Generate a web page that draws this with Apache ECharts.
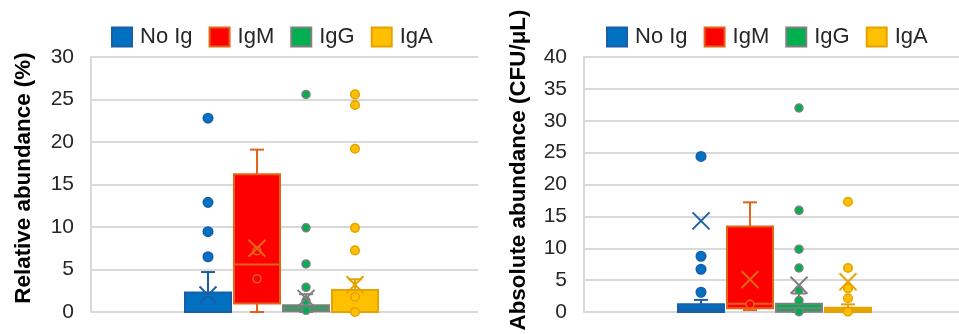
<!DOCTYPE html>
<html>
<head>
<meta charset="utf-8">
<script src="https://cdn.jsdelivr.net/npm/echarts@6/dist/echarts.min.js"></script>
<style>
  html, body { margin: 0; padding: 0; background: #fff; }
  #chart { width: 959px; height: 334px; }
</style>
</head>
<body>
<div id="chart"></div>
<script>
// Sample groups
const groups = ['No Ig', 'IgM', 'IgG', 'IgA'];

// Relative abundance (%): [lower whisker, Q1, median, Q3, upper whisker]
const relBox = [
  [0, 0, 0, 2.3, 4.7],
  [0, 1.0, 5.6, 16.2, 19.1],
  [0, 0.1, 0.45, 0.8, 2.1],
  [0, 0, 0, 2.6, 3.85]
];
const relMean = [2.0, 7.5, 1.6, 3.2];
const relPoints = [
  [22.8, 12.9, 9.45, 6.5],
  [7.2, 3.9],
  [25.6, 9.9, 5.65, 2.9, 1.3, 0.2],
  [25.6, 24.35, 19.2, 9.9, 7.25, 1.8, 0]
];
const relTicks = [0, 5, 10, 15, 20, 25, 30];

// Absolute abundance (CFU/μL): [lower whisker, Q1, median, Q3, upper whisker]
const absBox = [
  [0, 0, 0.4, 1.2, 1.9],
  [0.3, 0.58, 1.3, 13.4, 17.2],
  [0, 0.05, 0.6, 1.3, 2.9],
  [0, 0, 0.3, 0.65, 1.2]
];
const absMean = [14.3, 5.1, 4.2, 4.75];
const absPoints = [
  [24.4, 8.75, 6.7, 3.1],
  [1.2],
  [32, 15.95, 9.85, 6.9, 3.45, 1.8, 0.05],
  [17.3, 6.9, 3.7, 2.15, 0.05]
];
const absTicks = [0, 5, 10, 15, 20, 25, 30, 35, 40];

// Appearance
const FONT = '"Liberation Sans", Arial, sans-serif';
const TEXT = '#262626';
const GRID_COLOR = '#D9D9D9';
const groupStyle = [
  { fill: '#0070C0', border: '#1B5EA8', r: 4.8 },
  { fill: '#FF0000', border: '#E0651B', r: 4.0 },
  { fill: '#00B050', border: '#7F7F7F', r: 4.0 },
  { fill: '#FFC000', border: '#E5A200', r: 4.3 }
];
// Horizontal layout on the hidden x axis: one unit = spacing between boxes
const STEP_PX = 49;
const FIRST_OFFSET = 117 / STEP_PX;
const BOX_WIDTH = 46 / STEP_PX;

const grids = [
  { left: 91, top: 57, width: 387, height: 255 },
  { left: 584, top: 57, width: 375, height: 255 }
];

function makeRenderer(pointsList) {
  return function (params, api) {
    const gi = api.value(0);
    const st = groupStyle[gi];
    const xVal = FIRST_OFFSET + gi;
    const cx = api.coord([xVal, 0])[0];
    const py = v => api.coord([xVal, v])[1];
    const half = api.size([BOX_WIDTH, 0])[0] / 2;
    const lo = api.value(1), q1 = api.value(2), med = api.value(3),
          q3 = api.value(4), hi = api.value(5), mean = api.value(6);
    const line = (x1, y1, x2, y2) => ({
      type: 'line', shape: { x1, y1, x2, y2 },
      style: { stroke: st.border, lineWidth: 2 }
    });
    const cap = 7;
    const children = [
      line(cx, py(q3), cx, py(hi)),
      line(cx - cap, py(hi), cx + cap, py(hi)),
      line(cx, py(q1), cx, py(lo)),
      line(cx - cap, py(lo), cx + cap, py(lo)),
      {
        type: 'rect',
        shape: { x: cx - half, y: py(q3), width: 2 * half, height: py(q1) - py(q3) },
        style: { fill: st.fill, stroke: st.border, lineWidth: 2 }
      },
      line(cx - half, py(med), cx + half, py(med))
    ];
    pointsList[gi].forEach(v => {
      children.push({
        type: 'circle', shape: { cx, cy: py(v), r: st.r },
        style: { fill: st.fill, stroke: st.border, lineWidth: 1.5 }
      });
    });
    const my = py(mean), m = 8.5;
    children.push(line(cx - m, my - m, cx + m, my + m));
    children.push(line(cx - m, my + m, cx + m, my - m));
    return { type: 'group', children };
  };
}

function yAxisFor(gridIndex, ticks, name, gap, shift) {
  return {
    type: 'value', gridIndex,
    min: ticks[0], max: ticks[ticks.length - 1], interval: ticks[1] - ticks[0],
    name, nameLocation: 'middle', nameGap: gap,
    nameTextStyle: {
      fontFamily: FONT, fontSize: 22.4, fontWeight: 'bold', color: '#000',
      padding: [0, 0, 0, shift]
    },
    axisLine: { show: true, lineStyle: { color: GRID_COLOR, width: 2 } },
    axisTick: { show: false },
    axisLabel: { fontFamily: FONT, fontSize: 21, color: TEXT, margin: 17 },
    splitLine: { lineStyle: { color: GRID_COLOR, width: 2 } }
  };
}

function xAxisFor(gridIndex) {
  return {
    type: 'value', gridIndex, min: 0, max: grids[gridIndex].width / STEP_PX,
    show: false
  };
}

function seriesFor(gridIndex, box, mean, points) {
  return groups.map((g, i) => ({
    type: 'custom', name: g,
    xAxisIndex: gridIndex, yAxisIndex: gridIndex,
    renderItem: makeRenderer(points),
    encode: { x: 0, y: [1, 2, 3, 4, 5, 6] },
    data: [[i].concat(box[i], [mean[i]])],
    z: 2
  }));
}

function legendFor(left) {
  return {
    left, top: 26, padding: 0, itemWidth: 20, itemHeight: 19, itemGap: 16,
    icon: 'rect',
    textStyle: { fontFamily: FONT, fontSize: 22, color: TEXT, padding: [0, 0, 0, 3] },
    data: groups.map((g, i) => ({
      name: g,
      itemStyle: { color: groupStyle[i].fill, borderColor: groupStyle[i].border, borderWidth: 2 }
    }))
  };
}

const chart = echarts.init(document.getElementById('chart'));
chart.setOption({
  animation: false,
  backgroundColor: '#fff',
  grid: grids,
  legend: [legendFor(111), legendFor(606)],
  xAxis: [xAxisFor(0), xAxisFor(1)],
  yAxis: [
    yAxisFor(0, relTicks, 'Relative abundance (%)', 56, 13),
    yAxisFor(1, absTicks, 'Absolute abundance (CFU/μL)', 54, 29)
  ],
  series: seriesFor(0, relBox, relMean, relPoints)
    .concat(seriesFor(1, absBox, absMean, absPoints))
});
</script>
</body>
</html>
